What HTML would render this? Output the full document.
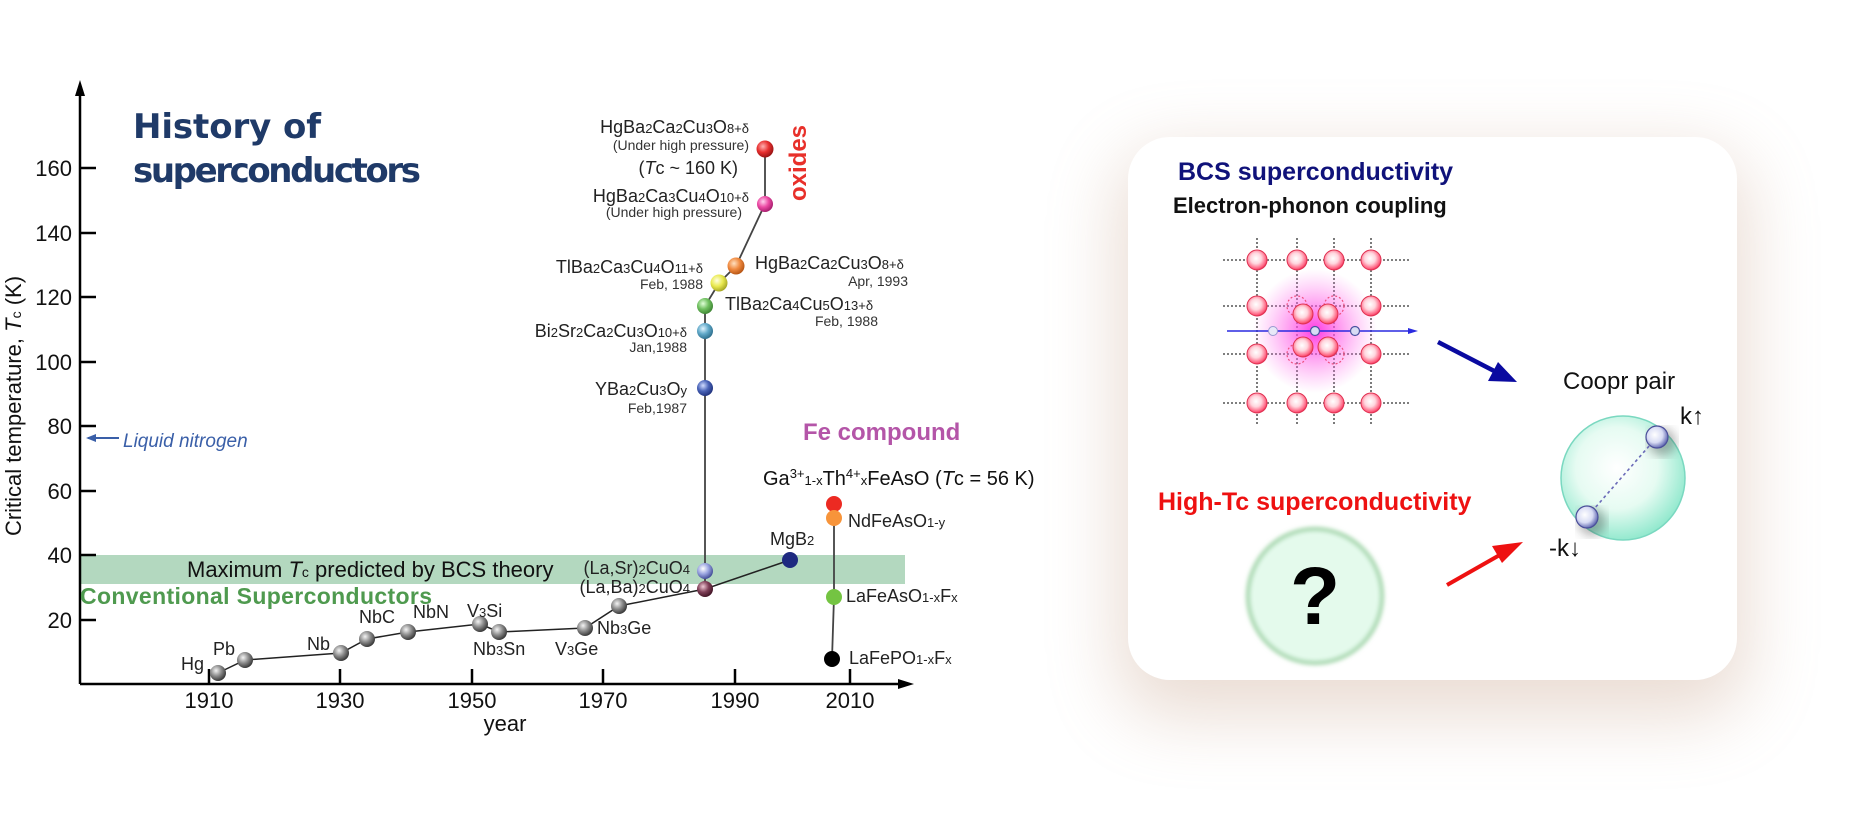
<!DOCTYPE html>
<html><head><meta charset="utf-8"><style>
html,body{margin:0;padding:0;background:#fff;}
body{width:1874px;height:817px;position:relative;overflow:hidden;font-family:"Liberation Sans",sans-serif;}
.box{position:absolute;left:1128px;top:137px;width:609px;height:543px;border-radius:42px;background:#fff;box-shadow:0 26px 70px 10px rgba(190,150,120,0.33);}
svg{position:absolute;left:0;top:0;}
</style></head><body>
<div class="box"></div>
<svg width="1874" height="817" viewBox="0 0 1874 817" font-family="Liberation Sans, sans-serif">
<defs>
<radialGradient id="gGray" cx="0.38" cy="0.35" r="0.7"><stop offset="0" stop-color="#f4f4f4"/><stop offset="0.5" stop-color="#8a8a8a"/><stop offset="1" stop-color="#2e2e2e"/></radialGradient>
<radialGradient id="gRed" cx="0.38" cy="0.35" r="0.7"><stop offset="0" stop-color="#ffb0b0"/><stop offset="0.5" stop-color="#e83030"/><stop offset="1" stop-color="#901010"/></radialGradient>
<radialGradient id="gPink" cx="0.38" cy="0.35" r="0.7"><stop offset="0" stop-color="#ffd0ee"/><stop offset="0.5" stop-color="#ec4aa4"/><stop offset="1" stop-color="#a01868"/></radialGradient>
<radialGradient id="gOrange" cx="0.38" cy="0.35" r="0.7"><stop offset="0" stop-color="#ffe0c0"/><stop offset="0.5" stop-color="#f08a40"/><stop offset="1" stop-color="#b05010"/></radialGradient>
<radialGradient id="gYellow" cx="0.38" cy="0.35" r="0.7"><stop offset="0" stop-color="#ffffe0"/><stop offset="0.5" stop-color="#eaea50"/><stop offset="1" stop-color="#a0a020"/></radialGradient>
<radialGradient id="gGreen" cx="0.38" cy="0.35" r="0.7"><stop offset="0" stop-color="#e0ffd8"/><stop offset="0.5" stop-color="#70c060"/><stop offset="1" stop-color="#3a8030"/></radialGradient>
<radialGradient id="gTeal" cx="0.38" cy="0.35" r="0.7"><stop offset="0" stop-color="#e0f4ff"/><stop offset="0.5" stop-color="#60a8c8"/><stop offset="1" stop-color="#2a6a88"/></radialGradient>
<radialGradient id="gBlue" cx="0.38" cy="0.35" r="0.7"><stop offset="0" stop-color="#d0dcff"/><stop offset="0.5" stop-color="#4a64b8"/><stop offset="1" stop-color="#1c2e78"/></radialGradient>
<radialGradient id="gLav" cx="0.38" cy="0.35" r="0.7"><stop offset="0" stop-color="#ffffff"/><stop offset="0.5" stop-color="#9aa4e0"/><stop offset="1" stop-color="#3a4490"/></radialGradient>
<radialGradient id="gMaroon" cx="0.38" cy="0.35" r="0.7"><stop offset="0" stop-color="#f0c8d4"/><stop offset="0.5" stop-color="#804058"/><stop offset="1" stop-color="#3c1020"/></radialGradient>
<radialGradient id="gLat" cx="0.45" cy="0.42" r="0.6"><stop offset="0" stop-color="#ffffff"/><stop offset="0.45" stop-color="#ffd6de"/><stop offset="0.85" stop-color="#ff6080"/><stop offset="1" stop-color="#e0204a"/></radialGradient>
<radialGradient id="gEl" cx="0.4" cy="0.4" r="0.65"><stop offset="0" stop-color="#ffffff"/><stop offset="0.55" stop-color="#d8dcf4"/><stop offset="1" stop-color="#5058a8"/></radialGradient>
<radialGradient id="gGlow" cx="0.5" cy="0.5" r="0.5"><stop offset="0" stop-color="#ff30e0" stop-opacity="0.95"/><stop offset="0.5" stop-color="#ff60e8" stop-opacity="0.5"/><stop offset="1" stop-color="#ff80f0" stop-opacity="0"/></radialGradient>
<radialGradient id="gCoop" cx="0.45" cy="0.42" r="0.6"><stop offset="0" stop-color="#ffffff"/><stop offset="0.55" stop-color="#e6fbf2"/><stop offset="1" stop-color="#8ee8cc"/></radialGradient>
<filter id="blur2"><feGaussianBlur stdDeviation="2"/></filter>
<filter id="blur5"><feGaussianBlur stdDeviation="5"/></filter>
</defs>

<!-- Left chart -->
<rect x="80" y="555" width="825" height="29" fill="#b3d8bf"/>
<line x1="80" y1="684" x2="80" y2="90" stroke="#000" stroke-width="2.5"/>
<polygon points="80,80 75,96 85,96" fill="#000"/>
<line x1="80" y1="684" x2="902" y2="684" stroke="#000" stroke-width="2.5"/>
<polygon points="914,684 898,679 898,689" fill="#000"/>
<g stroke="#000" stroke-width="2.5">
<line x1="80" y1="168" x2="96" y2="168"/><line x1="80" y1="233" x2="96" y2="233"/><line x1="80" y1="297" x2="96" y2="297"/><line x1="80" y1="362" x2="96" y2="362"/><line x1="80" y1="426" x2="96" y2="426"/><line x1="80" y1="491" x2="96" y2="491"/><line x1="80" y1="555" x2="96" y2="555"/><line x1="80" y1="620" x2="96" y2="620"/>
<line x1="209" y1="684" x2="209" y2="669"/><line x1="340" y1="684" x2="340" y2="669"/><line x1="472" y1="684" x2="472" y2="669"/><line x1="603" y1="684" x2="603" y2="669"/><line x1="735" y1="684" x2="735" y2="669"/><line x1="850" y1="684" x2="850" y2="669"/>
</g>
<g font-size="22" text-anchor="end" fill="#111">
<text x="72" y="176">160</text><text x="72" y="241">140</text><text x="72" y="305">120</text><text x="72" y="370">100</text><text x="72" y="434">80</text><text x="72" y="499">60</text><text x="72" y="563">40</text><text x="72" y="628">20</text>
</g>
<g font-size="22" text-anchor="middle" fill="#111">
<text x="209" y="708">1910</text><text x="340" y="708">1930</text><text x="472" y="708">1950</text><text x="603" y="708">1970</text><text x="735" y="708">1990</text><text x="850" y="708">2010</text>
<text x="505" y="731">year</text>
</g>
<text transform="translate(21,406) rotate(-90)" text-anchor="middle" font-size="22" fill="#111">Critical temperature, <tspan font-style="italic">T</tspan><tspan font-size="14">c</tspan> (K)</text>

<text x="133" y="138" font-family="DejaVu Sans, sans-serif" font-weight="bold" font-size="34" fill="#1f3a68" textLength="188">History of</text>
<text x="133" y="182" font-family="DejaVu Sans, sans-serif" font-weight="bold" font-size="34" fill="#1f3a68" textLength="288">superconductors</text>

<line x1="88" y1="438" x2="119" y2="438" stroke="#3a5fa8" stroke-width="2"/>
<polygon points="86,438 96,434 96,442" fill="#3a5fa8"/>
<text x="123" y="447" font-size="19" font-style="italic" fill="#3a5fa8">Liquid nitrogen</text>

<text x="187" y="577" font-size="22" fill="#111">Maximum <tspan font-style="italic">T</tspan><tspan font-size="14">c</tspan> predicted by BCS theory</text>
<text x="80" y="604" font-size="23" font-weight="bold" fill="#4f9a4f" textLength="352">Conventional Superconductors</text>

<!-- connecting lines -->
<polyline points="218,673 245,660 341,653 367,639 408,632 480,624 499,632 585,628 619,606 705,589 790,560" fill="none" stroke="#222" stroke-width="1.5"/>
<polyline points="705,589 705,306 719,283 736,266 765,204 765,149" fill="none" stroke="#444" stroke-width="1.8"/>
<polyline points="834,504 834,597 832,659" fill="none" stroke="#444" stroke-width="1.8"/>

<g>
<circle cx="218" cy="673" r="8" fill="url(#gGray)"/><circle cx="245" cy="660" r="8" fill="url(#gGray)"/><circle cx="341" cy="653" r="8" fill="url(#gGray)"/><circle cx="367" cy="639" r="8" fill="url(#gGray)"/><circle cx="408" cy="632" r="8" fill="url(#gGray)"/><circle cx="480" cy="624" r="8" fill="url(#gGray)"/><circle cx="499" cy="632" r="8" fill="url(#gGray)"/><circle cx="585" cy="628" r="8" fill="url(#gGray)"/><circle cx="619" cy="606" r="8" fill="url(#gGray)"/>
<circle cx="705" cy="589" r="8" fill="url(#gMaroon)"/><circle cx="705" cy="571" r="8" fill="url(#gLav)"/>
<circle cx="790" cy="560" r="8" fill="#1e2a80"/>
<circle cx="705" cy="388" r="8" fill="url(#gBlue)"/><circle cx="705" cy="331" r="8" fill="url(#gTeal)"/><circle cx="705" cy="306" r="8" fill="url(#gGreen)"/><circle cx="719" cy="283" r="8.5" fill="url(#gYellow)"/><circle cx="736" cy="266" r="8.5" fill="url(#gOrange)"/><circle cx="765" cy="204" r="8" fill="url(#gPink)"/><circle cx="765" cy="149" r="8.5" fill="url(#gRed)"/>
<circle cx="834" cy="504" r="8" fill="#ec2a22"/><circle cx="834" cy="518" r="8" fill="#f7943a"/><circle cx="834" cy="597" r="8" fill="#74c442"/><circle cx="832" cy="659" r="8" fill="#000"/>
</g>

<g font-size="18" fill="#222">
<text x="204" y="670" text-anchor="end">Hg</text>
<text x="213" y="655">Pb</text>
<text x="330" y="650" text-anchor="end">Nb</text>
<text x="359" y="623">NbC</text>
<text x="413" y="618">NbN</text>
<text x="467" y="617">V<tspan font-size="13">3</tspan>Si</text>
<text x="473" y="655">Nb<tspan font-size="13">3</tspan>Sn</text>
<text x="555" y="655">V<tspan font-size="13">3</tspan>Ge</text>
<text x="597" y="634">Nb<tspan font-size="13">3</tspan>Ge</text>
<text x="690" y="593" text-anchor="end">(La,Ba)<tspan font-size="13">2</tspan>CuO<tspan font-size="13">4</tspan></text>
<text x="690" y="574" text-anchor="end">(La,Sr)<tspan font-size="13">2</tspan>CuO<tspan font-size="13">4</tspan></text>
<text x="770" y="545">MgB<tspan font-size="13">2</tspan></text>
<text x="846" y="602">LaFeAsO<tspan font-size="13">1-x</tspan>F<tspan font-size="13">x</tspan></text>
<text x="849" y="664">LaFePO<tspan font-size="13">1-x</tspan>F<tspan font-size="13">x</tspan></text>
<text x="848" y="527">NdFeAsO<tspan font-size="13">1-y</tspan></text>
<text x="687" y="395" text-anchor="end">YBa<tspan font-size="13">2</tspan>Cu<tspan font-size="13">3</tspan>O<tspan font-size="13">y</tspan></text>
<text x="687" y="337" text-anchor="end">Bi<tspan font-size="13">2</tspan>Sr<tspan font-size="13">2</tspan>Ca<tspan font-size="13">2</tspan>Cu<tspan font-size="13">3</tspan>O<tspan font-size="13">10+δ</tspan></text>
<text x="703" y="273" text-anchor="end">TlBa<tspan font-size="13">2</tspan>Ca<tspan font-size="13">3</tspan>Cu<tspan font-size="13">4</tspan>O<tspan font-size="13">11+δ</tspan></text>
<text x="755" y="269">HgBa<tspan font-size="13">2</tspan>Ca<tspan font-size="13">2</tspan>Cu<tspan font-size="13">3</tspan>O<tspan font-size="13">8+δ</tspan></text>
<text x="725" y="310">TlBa<tspan font-size="13">2</tspan>Ca<tspan font-size="13">4</tspan>Cu<tspan font-size="13">5</tspan>O<tspan font-size="13">13+δ</tspan></text>
<text x="749" y="133" text-anchor="end">HgBa<tspan font-size="13">2</tspan>Ca<tspan font-size="13">2</tspan>Cu<tspan font-size="13">3</tspan>O<tspan font-size="13">8+δ</tspan></text>
<text x="749" y="202" text-anchor="end">HgBa<tspan font-size="13">2</tspan>Ca<tspan font-size="13">3</tspan>Cu<tspan font-size="13">4</tspan>O<tspan font-size="13">10+δ</tspan></text>
<text x="738" y="174" text-anchor="end">(<tspan font-style="italic">T</tspan>c ~ 160 K)</text>
</g>
<g font-size="14" fill="#333">
<text x="749" y="150" text-anchor="end">(Under high pressure)</text>
<text x="742" y="217" text-anchor="end">(Under high pressure)</text>
<text x="703" y="289" text-anchor="end">Feb, 1988</text>
<text x="908" y="286" text-anchor="end">Apr, 1993</text>
<text x="878" y="326" text-anchor="end">Feb, 1988</text>
<text x="687" y="352" text-anchor="end">Jan,1988</text>
<text x="687" y="413" text-anchor="end">Feb,1987</text>
</g>
<text transform="translate(806,163) rotate(-90)" text-anchor="middle" font-size="24" font-weight="bold" fill="#e8302a">oxides</text>
<text x="803" y="440" font-size="24" font-weight="bold" fill="#b455a8">Fe compound</text>
<text x="763" y="485" font-size="20" fill="#111">Ga<tspan font-size="13" dy="-7">3+</tspan><tspan font-size="13" dy="7">1-x</tspan>Th<tspan font-size="13" dy="-7">4+</tspan><tspan font-size="13" dy="7">x</tspan>FeAsO (<tspan font-style="italic">T</tspan>c = 56 K)</text>

<!-- Right panel -->
<text x="1178" y="180" font-size="25" font-weight="bold" fill="#10127a">BCS superconductivity</text>
<text x="1173" y="213" font-size="22" font-weight="bold" fill="#111">Electron-phonon coupling</text>

<g stroke="#333" stroke-width="1.3" stroke-dasharray="2,2">
<line x1="1223" y1="260" x2="1410" y2="260"/><line x1="1223" y1="306" x2="1410" y2="306"/><line x1="1223" y1="354" x2="1410" y2="354"/><line x1="1223" y1="403" x2="1410" y2="403"/>
<line x1="1257" y1="238" x2="1257" y2="425"/><line x1="1297" y1="238" x2="1297" y2="425"/><line x1="1334" y1="238" x2="1334" y2="425"/><line x1="1371" y1="238" x2="1371" y2="425"/>
</g>
<circle cx="1315" cy="331" r="62" fill="url(#gGlow)"/>
<g fill="none" stroke="#ee5080" stroke-width="1.2" stroke-dasharray="2,2">
<circle cx="1297" cy="306" r="10"/><circle cx="1334" cy="306" r="10"/><circle cx="1297" cy="354" r="10"/><circle cx="1334" cy="354" r="10"/>
</g>
<g fill="url(#gLat)" stroke="#e03050" stroke-width="1">
<circle cx="1257" cy="260" r="10"/><circle cx="1297" cy="260" r="10"/><circle cx="1334" cy="260" r="10"/><circle cx="1371" cy="260" r="10"/>
<circle cx="1257" cy="306" r="10"/><circle cx="1371" cy="306" r="10"/>
<circle cx="1257" cy="354" r="10"/><circle cx="1371" cy="354" r="10"/>
<circle cx="1257" cy="403" r="10"/><circle cx="1297" cy="403" r="10"/><circle cx="1334" cy="403" r="10"/><circle cx="1371" cy="403" r="10"/>
</g>
<line x1="1227" y1="331" x2="1412" y2="331" stroke="#2a2ae0" stroke-width="1.5"/>
<polygon points="1418,331 1408,328 1408,334" fill="#2a2ae0"/>
<g fill="url(#gLat)" stroke="#e03050" stroke-width="1">
<circle cx="1303" cy="314" r="10"/><circle cx="1328" cy="314" r="10"/><circle cx="1303" cy="347" r="10"/><circle cx="1328" cy="347" r="10"/>
</g>
<circle cx="1273" cy="331" r="4.5" fill="#e8e8f8" stroke="#9a9ad0" stroke-width="1"/>
<circle cx="1315" cy="331" r="4.5" fill="#d8dcf4" stroke="#4a52a0" stroke-width="1.2"/>
<circle cx="1355" cy="331" r="4.5" fill="#d8dcf4" stroke="#4a52a0" stroke-width="1.2"/>

<line x1="1438" y1="342" x2="1500" y2="374" stroke="#0a0aa0" stroke-width="4.5"/>
<polygon points="1517,382 1488,381 1498,362" fill="#0a0aa0"/>

<text x="1158" y="510" font-size="25" font-weight="bold" fill="#ee1111">High-Tc superconductivity</text>

<circle cx="1315" cy="596" r="67" fill="#e4faec" stroke="#a0d4a8" stroke-width="4" filter="url(#blur2)"/>
<text x="1315" y="624" text-anchor="middle" font-size="82" font-weight="bold" fill="#000">?</text>

<line x1="1447" y1="585" x2="1505" y2="552" stroke="#ee1111" stroke-width="4"/>
<polygon points="1523,542 1502,563 1492,546" fill="#ee1111"/>

<text x="1563" y="389" font-size="24" fill="#111">Coopr pair</text>
<circle cx="1623" cy="478" r="62" fill="url(#gCoop)" stroke="#7ad8c0" stroke-width="1.5"/>
<circle cx="1662" cy="442" r="14" fill="#333" opacity="0.35" filter="url(#blur5)"/>
<circle cx="1592" cy="522" r="14" fill="#333" opacity="0.35" filter="url(#blur5)"/>
<line x1="1657" y1="437" x2="1587" y2="517" stroke="#6a6ab8" stroke-width="1.6" stroke-dasharray="3,3"/>
<circle cx="1657" cy="437" r="11" fill="url(#gEl)" stroke="#4a4e9a" stroke-width="1.2"/>
<circle cx="1587" cy="517" r="11" fill="url(#gEl)" stroke="#4a4e9a" stroke-width="1.2"/>
<text x="1680" y="424" font-size="24" fill="#111">k↑</text>
<text x="1549" y="556" font-size="24" fill="#111">-k↓</text>
</svg>
</body></html>
